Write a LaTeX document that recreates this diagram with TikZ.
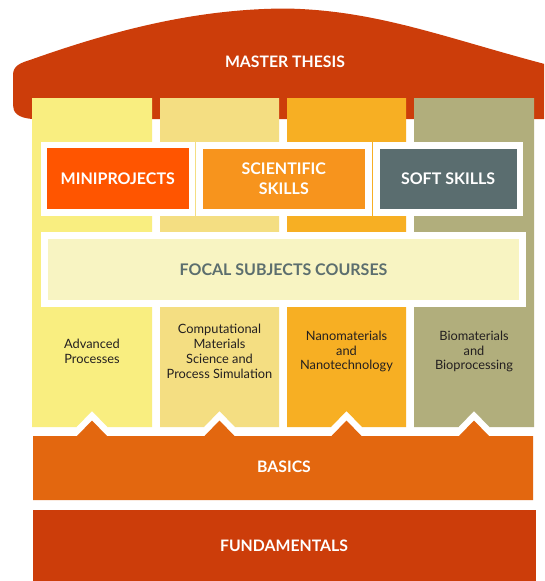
\documentclass[tikz,border=0pt]{standalone}
\usepackage{fontspec}
\setmainfont{Lato}
\definecolor{thesisred}{HTML}{CC3D0A}
\definecolor{basicsor}{HTML}{E3670F}
\definecolor{fundred}{HTML}{CC3D0A}
\definecolor{colA}{HTML}{F9EE80}
\definecolor{colB}{HTML}{F4DE82}
\definecolor{colC}{HTML}{F7AF23}
\definecolor{colD}{HTML}{B1AE7C}
\definecolor{miniC}{HTML}{FF5500}
\definecolor{sciC}{HTML}{F7941D}
\definecolor{softC}{HTML}{5A6D6F}
\definecolor{focalC}{HTML}{F8F4C2}
\definecolor{focalT}{HTML}{5C6E6E}
\definecolor{darktxt}{HTML}{231F20}
\tikzset{
  captxt/.style={text=white, font=\fontsize{15.8}{19}\selectfont\bfseries, align=center, inner sep=0pt},
  coltxt/.style={text=darktxt, font=\fontsize{12.8}{14.8}\selectfont, align=center, inner sep=0pt},
  skillbox/.style={inner sep=0pt, text=white, font=\fontsize{16}{20}\selectfont\bfseries, align=center}
}
\begin{document}
\begin{tikzpicture}[x=1pt,y=-1pt]
\clip (0,0) rectangle (544,581);
\fill[white] (0,0) rectangle (544,581);
% master thesis cap
\fill[thesisred] (33,119) .. controls (17,118) and (13,112) .. (13,105) -- (13,75)
  .. controls (13,66) and (20,63) .. (30,60)
  .. controls (120,28) and (200,9) .. (285,8.5)
  .. controls (380,10) and (450,40) .. (560,68) -- (560,119) -- cycle;
\node[captxt] (thesis) at (285,61.5) {MASTER THESIS};
% columns
\foreach \a/\b/\c in {32/152/colA, 160/279/colB, 287/406/colC, 414/534/colD}{
  \pgfmathsetmacro\m{(\a+\b)/2}
  \fill[\c] (\a,98) -- (\b,98) -- (\b,427) -- (\m+15.5,427) -- (\m,411) -- (\m-15.5,427) -- (\a,427) -- cycle;
}
% skills row frames
\fill[white] (40.5,141.5) rectangle (195.2,216);
\fill[white] (196.2,142) rectangle (371.5,216);
\fill[white] (372.5,142) rectangle (523,216);
\node[skillbox, fill=miniC, minimum width=141.5pt, minimum height=61pt] (mini) at (117.75,178.5) {MINIPROJECTS};
\node[skillbox, fill=sciC, minimum width=161.6pt, minimum height=60pt] (sci) at (283.8,179) {SCIENTIFIC\\SKILLS};
\node[skillbox, fill=softC, minimum width=137.2pt, minimum height=60pt] (soft) at (448.1,179) {SOFT SKILLS};
% focal subjects
\fill[white] (40.6,232.4) rectangle (526,307);
\node[skillbox, fill=focalC, text=focalT, minimum width=471pt, minimum height=60.5pt] (focal) at (283.5,269.25) {FOCAL SUBJECTS COURSES};
% column labels
\node[coltxt] (adv) at (92,351.5) {Advanced\\Processes};
\node[coltxt] (comp) at (219.5,351.5) {Computational\\Materials\\Science and\\Process Simulation};
\node[coltxt] (nano) at (346.5,351.5) {Nanomaterials\\and\\Nanotechnology};
\node[coltxt] (bio) at (474,351.5) {Biomaterials\\and\\Bioprocessing};
% basics
\fill[basicsor] (33,436)
  -- (77,436) -- (92,420.5) -- (107,436)
  -- (204.5,436) -- (219.5,420.5) -- (234.5,436)
  -- (331.5,436) -- (346.5,420.5) -- (361.5,436)
  -- (459,436) -- (474,420.5) -- (489,436)
  -- (533,436) -- (533,500) -- (33,500) -- cycle;
\node[captxt] (basics) at (284,467) {BASICS};
% fundamentals
\fill[fundred] (33,509.5) rectangle (536,590);
\node[captxt] (fund) at (284,546) {FUNDAMENTALS};
\end{tikzpicture}
\end{document}
